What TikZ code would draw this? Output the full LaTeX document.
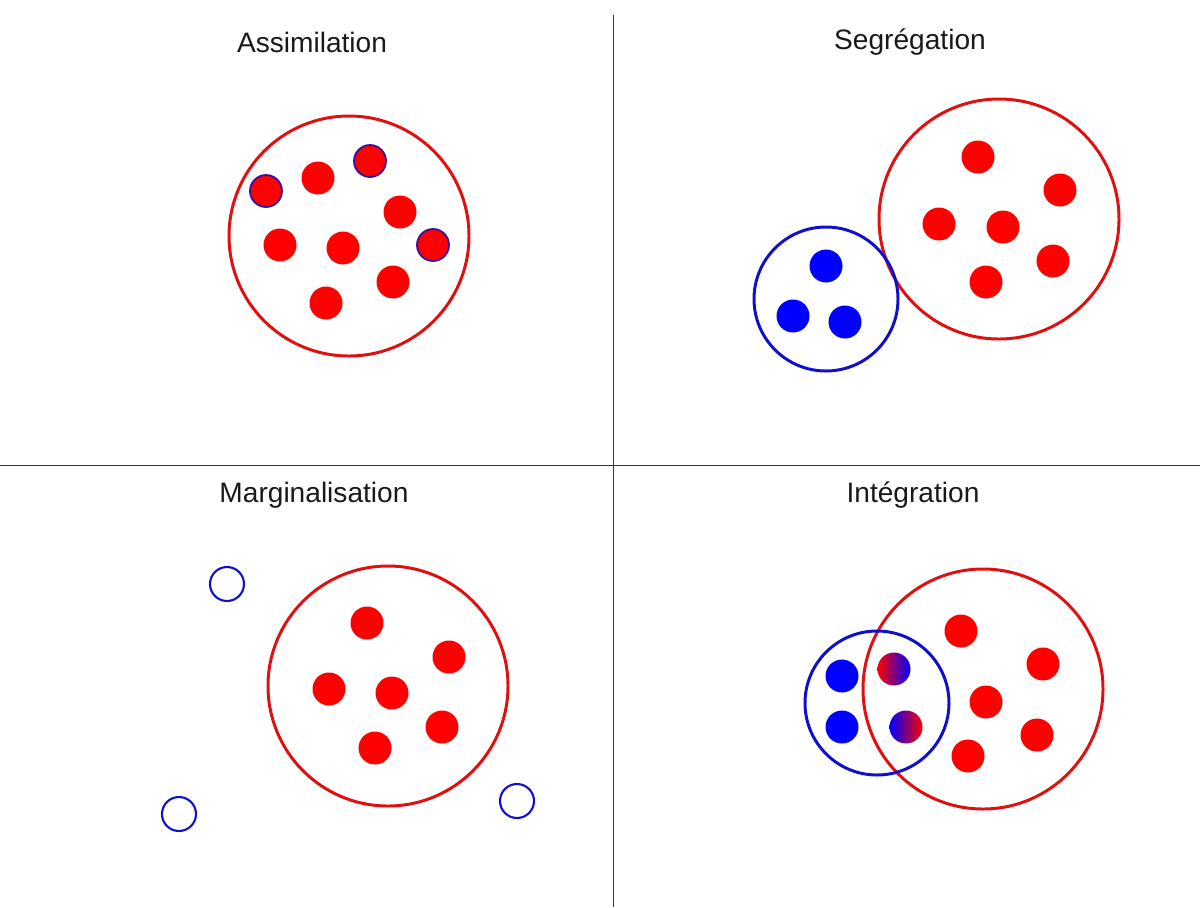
\documentclass[tikz,border=0pt]{standalone}
\usepackage{fontspec}
\setmainfont{Liberation Sans}
\definecolor{rring}{HTML}{E01010}
\definecolor{rdot}{HTML}{FF0000}
\definecolor{bring}{HTML}{1010CC}
\definecolor{bdot}{HTML}{0000FF}
\definecolor{bout}{HTML}{3010A0}
\begin{document}
\begin{tikzpicture}[x=0.02cm,y=-0.02cm,
  ring/.style={draw=rring,line width=1.7pt},
  bluering/.style={draw=bring,line width=1.7pt},
  smallring/.style={draw=bring,line width=1.2pt},
  reddot/.style={fill=rdot},
  bluedot/.style={fill=bdot},
  outdot/.style={fill=rdot,draw=bout,line width=1pt},
  title/.style={font=\fontsize{16}{19}\selectfont,text=black!90},
  sep/.style={draw=black!80,line width=0.5pt}]
\useasboundingbox (0,0) rectangle (1200,907);
% separators
\coordinate (vt) at (613,15); \coordinate (vb) at (613,907);
\coordinate (hl) at (0,465); \coordinate (hr) at (1200,465);
\draw[sep] (vt) -- (vb);
\draw[sep] (hl) -- (hr);
% titles
\node[title] (t1) at (312,42) {Assimilation};
\node[title] (t2) at (910,42) {Segrégation};
\node[title] (t3) at (314,495) {Marginalisation};
\node[title] (t4) at (913,495) {Intégration};
% Assimilation
\draw[ring] (349,236) circle[radius=120];
\foreach \p in {(318,178),(400,212),(280,245),(343,248),(393,282),(326,303)}
  \fill[reddot] \p circle[radius=16.5];
\foreach \p in {(266,191),(370,161),(433,245)}
  \filldraw[outdot] \p circle[radius=16];
% Segregation
\draw[ring] (999,219) circle[radius=120];
\foreach \p in {(978,157),(1060,190),(939,224),(1003,227),(1053,261),(986,282)}
  \fill[reddot] \p circle[radius=16.5];
\draw[bluering] (826,299) circle[radius=72];
\foreach \p in {(826,266),(793,316),(845,322)}
  \fill[bluedot] \p circle[radius=16.5];
% Marginalisation
\draw[ring] (388,686) circle[radius=120];
\foreach \p in {(367,623),(449,657),(329,689),(392,693),(442,727),(375,748)}
  \fill[reddot] \p circle[radius=16.5];
\foreach \p in {(227,584),(179,814),(517,801)}
  \draw[smallring] \p circle[radius=17];
% Integration
\draw[ring] (983,689) circle[radius=120];
\foreach \p in {(961,631),(1043,664),(986,702),(1037,735),(968,756)}
  \fill[reddot] \p circle[radius=16.5];
\draw[bluering] (877,703) circle[radius=72];
\foreach \p in {(842,676),(842,727)}
  \fill[bluedot] \p circle[radius=16.5];
\shade[left color=rdot,right color=bdot,shading=axis] (894,669) circle[radius=16.5];
\shade[left color=bdot,right color=rdot,shading=axis] (906,727) circle[radius=16.5];
\end{tikzpicture}
\end{document}
